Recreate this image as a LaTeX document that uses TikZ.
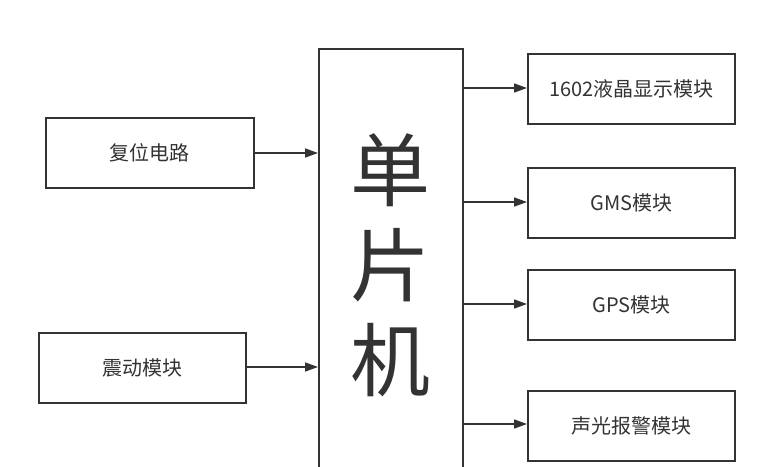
\documentclass[tikz,border=0pt]{standalone}
\usepackage{fontspec}
\setmainfont{Noto Sans CJK SC}
\usetikzlibrary{arrows.meta}
\definecolor{ink}{HTML}{333333}
\begin{document}
\begin{tikzpicture}[x=1pt,y=-1pt,
  box/.style={draw=ink,line width=1.8pt,fill=white,inner sep=0pt,anchor=north west},
  lbl/.style={font=\fontsize{20}{24}\selectfont,text=ink},
  conn/.style={draw=ink,line width=1.6pt,-{Triangle[length=13pt,width=9pt]}}]
\useasboundingbox (0,0) rectangle (779,466);
\clip (0,0) rectangle (779,466);
% central box
\node[box,minimum width=144pt,minimum height=440pt] (mcu) at (318,48) {};
\node[font=\fontsize{80}{95}\selectfont,text=ink,align=center] (mcut) at (390,265) {单\\片\\机};
% left boxes
\node[box,minimum width=208pt,minimum height=70pt] (rst) at (45,117) {};
\node[lbl] at (rst.center) {复位电路};
\node[box,minimum width=207pt,minimum height=70pt] (vib) at (38,332) {};
\node[lbl] at (vib.center) {震动模块};
% right boxes
\node[box,minimum width=207pt,minimum height=70pt] (lcd) at (527,53) {};
\node[lbl] at (lcd.center) {1602液晶显示模块};
\node[box,minimum width=207pt,minimum height=70pt] (gms) at (527,167) {};
\node[lbl] at (gms.center) {GMS模块};
\node[box,minimum width=207pt,minimum height=70pt] (gps) at (527,269) {};
\node[lbl] at (gps.center) {GPS模块};
\node[box,minimum width=207pt,minimum height=70pt] (alm) at (527,390) {};
\node[lbl] at (alm.center) {声光报警模块};
% connectors
\draw[conn] (rst.east |- 0,153) -- (mcu.west |- 0,153);
\draw[conn] (vib.east |- 0,367) -- (mcu.west |- 0,367);
\draw[conn] (mcu.east |- 0,88) -- (lcd.west |- 0,88);
\draw[conn] (mcu.east |- 0,202) -- (gms.west |- 0,202);
\draw[conn] (mcu.east |- 0,304) -- (gps.west |- 0,304);
\draw[conn] (mcu.east |- 0,424) -- (alm.west |- 0,424);
\end{tikzpicture}
\end{document}
